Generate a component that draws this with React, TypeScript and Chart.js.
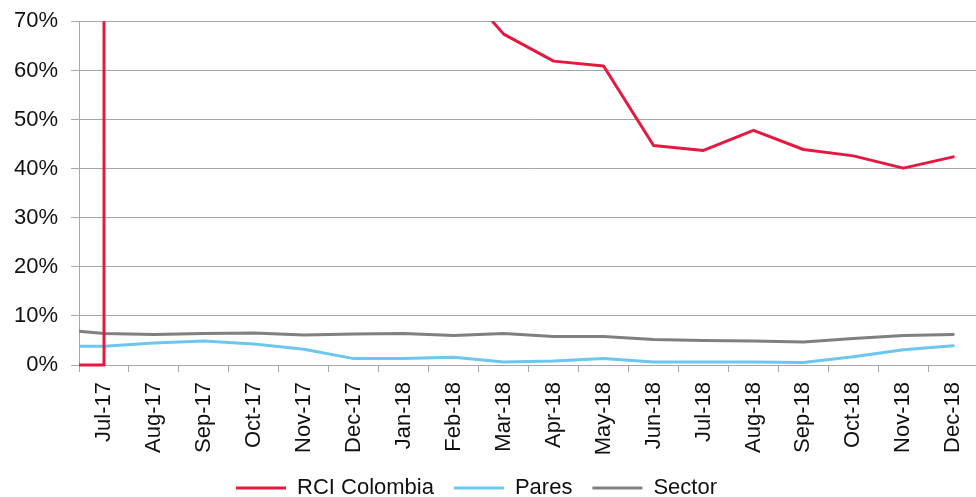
import { useEffect, useRef } from 'react';
import { Chart, registerables } from 'chart.js';

Chart.register(...registerables);

// Month categories on the x axis
const categories = [
  'Jul-17', 'Aug-17', 'Sep-17', 'Oct-17', 'Nov-17', 'Dec-17',
  'Jan-18', 'Feb-18', 'Mar-18', 'Apr-18', 'May-18', 'Jun-18',
  'Jul-18', 'Aug-18', 'Sep-18', 'Oct-18', 'Nov-18', 'Dec-18',
];

// Series values, in percent (Jul-17 .. Feb-18 of RCI are above the 70% axis limit)
const rciColombia = [1200, 600, 400, 250, 180, 130, 100, 79, 67.4, 61.9, 60.9, 44.7, 43.7, 47.8, 43.9, 42.6, 40.1, 42.4];
const pares = [3.8, 4.5, 4.9, 4.3, 3.2, 1.3, 1.3, 1.6, 0.6, 0.8, 1.3, 0.6, 0.6, 0.6, 0.5, 1.7, 3.1, 3.9];
const sector = [6.4, 6.2, 6.4, 6.5, 6.1, 6.3, 6.4, 6.0, 6.4, 5.8, 5.8, 5.2, 5.0, 4.9, 4.7, 5.4, 6.0, 6.2];

// Values at the left edge of the plot (half a month before Jul-17)
const edgeIndex = -0.5;
const rciEdge = [0, 0]; // RCI sits at 0 until the Jul-17 jump
const paresEdge = 3.8;
const sectorEdge = 6.9;

// Y axis
const yMin = 0;
const yMax = 70;
const yStep = 10;

const toPoints = (values: number[]) => values.map((y, i) => ({ x: i, y }));

const legendShift = {
  id: 'legendShift',
  afterLayout(chart: any) {
    const l = chart.legend;
    if (l) {
      l.left -= 17;
      l.right -= 17;
    }
  },
};

export default function App() {
  const ref = useRef<HTMLCanvasElement | null>(null);

  useEffect(() => {
    if (!ref.current) return;
    const font = { family: '"Liberation Sans", Arial, sans-serif', size: 22 };
    const clip = { left: 0, top: 0, right: 0, bottom: 5 };
    const chart = new Chart(ref.current, {
      type: 'line',
      data: {
        labels: categories,
        datasets: [
          {
            label: 'RCI Colombia',
            data: [{ x: edgeIndex, y: rciEdge[0] }, { x: 0, y: rciEdge[1] }, ...toPoints(rciColombia)],
            borderColor: '#E5193F',
            backgroundColor: '#E5193F',
            borderWidth: 3,
            clip,
          },
          {
            label: 'Pares',
            data: [{ x: edgeIndex, y: paresEdge }, ...toPoints(pares)],
            borderColor: '#6CC6EE',
            backgroundColor: '#6CC6EE',
            borderWidth: 3,
            clip,
          },
          {
            label: 'Sector',
            data: [{ x: edgeIndex, y: sectorEdge }, ...toPoints(sector)],
            borderColor: '#808080',
            backgroundColor: '#808080',
            borderWidth: 3,
            clip,
          },
        ] as any,
      },
      options: {
        animation: false,
        responsive: false,
        maintainAspectRatio: false,
        layout: { padding: { left: 1, right: 4, top: 0, bottom: 0 } },
        elements: {
          point: { radius: 0, hoverRadius: 0 },
          line: { tension: 0, borderJoinStyle: 'round', borderCapStyle: 'round' },
        },
        plugins: {
          tooltip: { enabled: false },
          legend: {
            position: 'bottom',
            labels: {
              font,
              color: '#111',
              boxWidth: 50,
              boxHeight: 3,
              padding: 20,
              generateLabels: (c: any) =>
                c.data.datasets.map((ds: any, i: number) => ({
                  text: ds.label,
                  fillStyle: ds.borderColor,
                  strokeStyle: ds.borderColor,
                  lineWidth: 0,
                  hidden: false,
                  datasetIndex: i,
                  fontColor: '#111',
                })),
            },
          },
        },
        scales: {
          x: {
            type: 'linear',
            display: false,
            min: edgeIndex,
            max: categories.length - 1 - edgeIndex,
          },
          xc: {
            type: 'category',
            position: 'bottom',
            offset: true,
            afterFit: (scale: any) => {
              scale.height = 92;
            },
            grid: {
              offset: true,
              drawOnChartArea: false,
              drawTicks: true,
              tickLength: 7,
              color: '#A6A6A6',
            },
            border: { display: true, color: '#A6A6A6', width: 1 },
            ticks: {
              font,
              color: '#111',
              minRotation: 90,
              maxRotation: 90,
              autoSkip: false,
              padding: 10,
            },
          },
          y: {
            min: yMin,
            max: yMax,
            ticks: {
              stepSize: yStep,
              font: { ...font, lineHeight: 0.76 },
              color: '#111',
              padding: 13,
              callback: (v: any) => `${v}%`,
            },
            grid: { color: '#A6A6A6', tickLength: 8, lineWidth: 1 },
            border: { display: true, color: '#A6A6A6', width: 1 },
          },
        },
      } as any,
      plugins: [legendShift],
    });
    return () => chart.destroy();
  }, []);

  return (
    <div style={{ position: 'fixed', left: 0, top: 0, width: 976, height: 497, overflow: 'hidden', background: '#fff' }}>
      <canvas ref={ref} width={990} height={509} style={{ width: 990, height: 509, display: 'block' }} />
    </div>
  );
}
